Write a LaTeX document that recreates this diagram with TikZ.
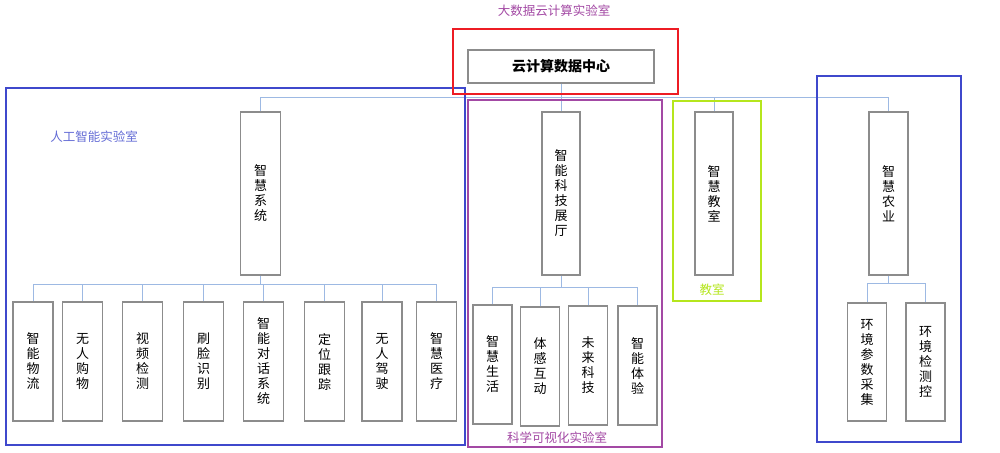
\documentclass[tikz,border=0pt]{standalone}
\usepackage{fontspec}
\setmainfont{Noto Sans CJK SC}
\definecolor{boxgray}{HTML}{8C8C8C}
\definecolor{connblue}{HTML}{9DB9E3}
\definecolor{fblue}{HTML}{3F48CC}
\definecolor{fred}{HTML}{ED1C24}
\definecolor{fpurple}{HTML}{A349A4}
\definecolor{fgreen}{HTML}{B5E61D}
\begin{document}
\begin{tikzpicture}[x=1pt,y=-1pt,
  box/.style={draw=boxgray, line width=1.3pt, fill=white, inner sep=0pt, align=center,
    font=\fontsize{13}{15}\selectfont},
  tall/.style={box, minimum width=40pt, minimum height=163pt},
  leaf/.style={box, minimum width=40pt, minimum height=119pt},
  frame/.style={line width=2.9pt},
  conn/.style={draw=connblue, line width=1pt},
  lab/.style={inner sep=0pt, font=\fontsize{12.5}{15}\selectfont}]
\useasboundingbox[fill=white] (0,0) rectangle (1000,452);

% bus coordinates
\coordinate (topbus) at (0,97);
\coordinate (lbus) at (0,284);
\coordinate (pbus) at (0,287);
\coordinate (rbus) at (0,283);

% top node
\node[box, minimum width=186pt, minimum height=33pt, font=\fontsize{14}{16}\selectfont\bfseries] (dc) at (561,66.5) {云计算数据中心};

% second level
\node[tall] (sys) at (260.5,193.5) {智\\慧\\系\\统};
\node[tall, minimum width=38pt] (hall) at (561,193.5) {智\\能\\科\\技\\展\\厅};
\node[tall, minimum width=38pt] (cls) at (714,193.5) {智\\慧\\教\\室};
\node[tall, minimum width=39pt] (agri) at (888.5,193.5) {智\\慧\\农\\业};

% AI lab leaves
\node[leaf] (c1) at (33,361.5) {智\\能\\物\\流};
\node[leaf] (c2) at (82.5,361.5) {无\\人\\购\\物};
\node[leaf] (c3) at (142.5,361.5) {视\\频\\检\\测};
\node[leaf] (c4) at (203.5,361.5) {刷\\脸\\识\\别};
\node[leaf] (c5) at (263.5,361.5) {智\\能\\对\\话\\系\\统};
\node[leaf] (c6) at (324.5,361.5) {定\\位\\跟\\踪};
\node[leaf] (c7) at (382,361.5) {无\\人\\驾\\驶};
\node[leaf] (c8) at (436.5,361.5) {智\\慧\\医\\疗};

% science lab leaves
\node[leaf, minimum width=39pt] (p1) at (492.5,364.5) {智\\慧\\生\\活};
\node[leaf, minimum width=39pt] (p2) at (540,366.5) {体\\感\\互\\动};
\node[leaf, minimum width=39pt] (p3) at (588,365.5) {未\\来\\科\\技};
\node[leaf, minimum width=39pt] (p4) at (637.5,365.5) {智\\能\\体\\验};

% agriculture leaves
\node[leaf, minimum width=39pt, minimum height=118pt] (r1) at (867,362) {环\\境\\参\\数\\采\\集};
\node[leaf, minimum width=39pt, minimum height=118pt] (r2) at (925.5,362) {环\\境\\检\\测\\控};

% connectors, top level
\draw[conn] (sys.north) -- (sys.north |- topbus) -- (agri.north |- topbus) -- (agri.north);
\draw[conn] (dc.south) -- (hall.north);
\draw[conn] (cls.north) -- (cls.north |- topbus);

% connectors, AI lab
\draw[conn] (sys.south) -- (sys.south |- lbus);
\draw[conn] (c1.north) -- (c1.north |- lbus) -- (c8.north |- lbus) -- (c8.north);
\foreach \n in {c2,c3,c4,c5,c6,c7} \draw[conn] (\n.north) -- (\n.north |- lbus);

% connectors, science lab
\draw[conn] (hall.south) -- (hall.south |- pbus);
\draw[conn] (p1.north) -- (p1.north |- pbus) -- (p4.north |- pbus) -- (p4.north);
\foreach \n in {p2,p3} \draw[conn] (\n.north) -- (\n.north |- pbus);

% connectors, agriculture
\draw[conn] (agri.south) -- (agri.south |- rbus);
\draw[conn] (r1.north) -- (r1.north |- rbus) -- (r2.north |- rbus) -- (r2.north);

% frames
\draw[frame, fblue] (6,88) rectangle (465,445);
\draw[frame, fred] (453,29) rectangle (678,94);
\draw[frame, fpurple] (468,100) rectangle (662,447);
\draw[frame, fgreen] (673,101) rectangle (761,301);
\draw[frame, fblue] (817,76) rectangle (961,442);

% frame labels
\node[lab, text=fpurple] (lbig) at (554,11) {大数据云计算实验室};
\node[lab, text=fblue!80] (lai) at (94,137) {人工智能实验室};
\node[lab, text=fpurple] (lsci) at (557,438) {科学可视化实验室};
\node[lab, text=fgreen] (lcls) at (712,290) {教室};
\end{tikzpicture}
\end{document}
